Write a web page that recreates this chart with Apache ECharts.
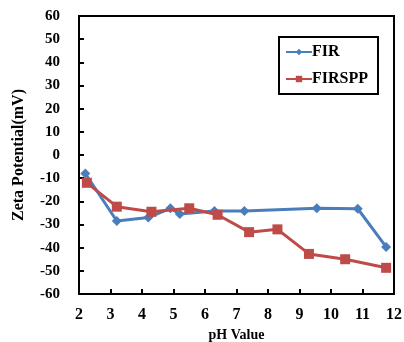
<!DOCTYPE html>
<html>
<head>
<meta charset="utf-8">
<script src="https://cdn.jsdelivr.net/npm/echarts@6/dist/echarts.min.js"></script>
<style>
  html, body { margin: 0; padding: 0; background: #fff; }
  #chart { width: 404px; height: 342px; }
</style>
</head>
<body>
<div id="chart"></div>
<script>
// values
const firPH = [2.2, 3.2, 4.2, 4.9, 5.2, 6.3, 7.25, 9.55, 10.85, 11.75];
const firZeta = [-8, -28.5, -27, -23, -25.5, -24.2, -24.2, -23, -23.2, -39.7];
const firsppPH = [2.25, 3.2, 4.3, 5.5, 6.4, 7.4, 8.3, 9.3, 10.45, 11.75];
const firsppZeta = [-12, -22.3, -24.5, -23, -25.8, -33.3, -32.1, -42.7, -45, -48.7];

const BLUE = '#4a7ebb';
const RED = '#be4b48';
const FONT = '"Liberation Serif", "Times New Roman", serif';

const pairs = (xs, ys) => xs.map((x, i) => [x, ys[i]]);

const chart = echarts.init(document.getElementById('chart'));
chart.setOption({
  animation: false,
  grid: {
    left: 79, right: 10, top: 16, bottom: 48,
    outerBoundsMode: 'none',
    show: true, borderColor: '#000', borderWidth: 2
  },
  legend: {
    orient: 'vertical',
    left: 279, top: 37,
    padding: [7, 10, 7, 6],
    itemGap: 11,
    itemWidth: 26, itemHeight: 8,
    borderColor: '#000', borderWidth: 2,
    textStyle: { fontFamily: FONT, fontWeight: 'bold', fontSize: 16, color: '#000', padding: [0, 0, 0, -5] },
    data: ['FIR', 'FIRSPP']
  },
  xAxis: {
    type: 'value',
    min: 2, max: 12, interval: 1,
    name: 'pH Value',
    nameLocation: 'middle',
    nameGap: 34,
    nameTextStyle: { fontFamily: FONT, fontWeight: 'bold', fontSize: 14, color: '#000', verticalAlign: 'top' },
    axisLine: { onZero: false, lineStyle: { color: '#000', width: 2 } },
    axisTick: { inside: true, length: 5, lineStyle: { color: '#000', width: 2 } },
    axisLabel: { margin: 13, fontFamily: FONT, fontWeight: 'bold', fontSize: 16, color: '#000' },
    splitLine: { show: false }
  },
  yAxis: {
    type: 'value',
    min: -60, max: 60, interval: 10,
    name: 'Zeta Potential(mV)',
    nameLocation: 'middle',
    nameGap: 52,
    nameTextStyle: { fontFamily: FONT, fontWeight: 'bold', fontSize: 16, color: '#000' },
    axisLine: { onZero: false, lineStyle: { color: '#000', width: 2 } },
    axisTick: { inside: true, length: 5, lineStyle: { color: '#000', width: 2 } },
    axisLabel: { margin: 19, fontFamily: FONT, fontWeight: 'bold', fontSize: 15, color: '#000' },
    splitLine: { show: false }
  },
  series: [
    {
      name: 'FIR',
      type: 'line',
      data: pairs(firPH, firZeta),
      symbol: 'diamond',
      symbolSize: 10,
      lineStyle: { color: BLUE, width: 3 },
      itemStyle: { color: BLUE },
      z: 2
    },
    {
      name: 'FIRSPP',
      type: 'line',
      data: pairs(firsppPH, firsppZeta),
      symbol: 'rect',
      symbolSize: 10,
      lineStyle: { color: RED, width: 3 },
      itemStyle: { color: RED },
      z: 3
    }
  ]
});
</script>
</body>
</html>
